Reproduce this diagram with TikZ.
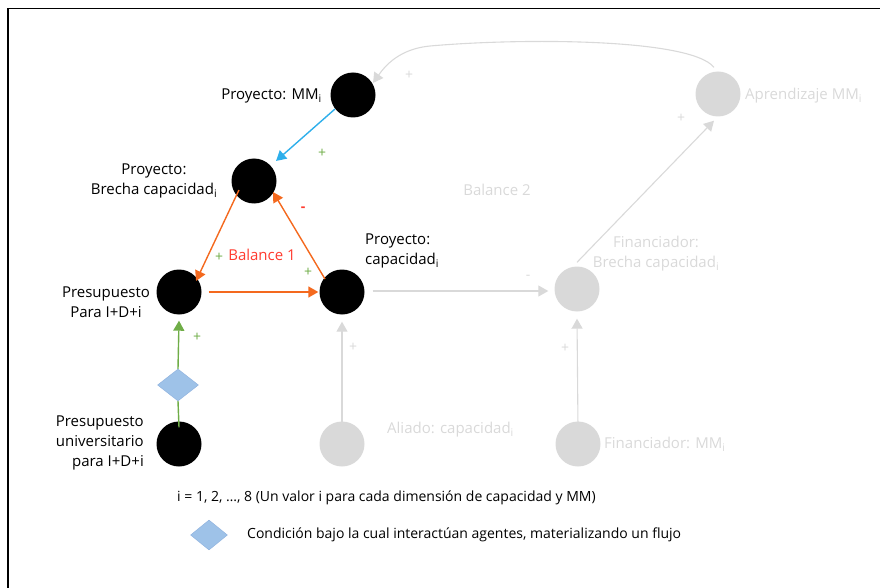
\documentclass[tikz,border=0pt]{standalone}
\usepackage{fontspec}
\setmainfont{Open Sans}
\usetikzlibrary{arrows.meta,shapes.geometric}
\definecolor{cOrange}{HTML}{F4691E}
\definecolor{cBlue}{HTML}{2EAFEB}
\definecolor{cGreen}{HTML}{6FAD47}
\definecolor{cRed}{HTML}{FF3B2F}
\definecolor{cGray}{HTML}{D9D9D9}
\definecolor{cDiaFill}{HTML}{9EC2E8}
\definecolor{cDiaLine}{HTML}{8DB0DD}
\tikzset{
  stock/.style={circle,fill=black,minimum size=45pt,inner sep=0pt},
  faded/.style={circle,fill=cGray,minimum size=45pt,inner sep=0pt},
  lbl/.style={font=\fontsize{15}{20}\selectfont,inner sep=0pt,align=center},
  glbl/.style={lbl,text=cGray},
  leg/.style={font=\fontsize{14}{18}\selectfont,inner sep=0pt},
  sign/.style={font=\fontsize{14}{16}\selectfont,inner sep=0pt},
  link/.style={line width=1.4pt,-{Triangle[length=10pt,width=11pt]}},
  flow/.style={cGray,line width=1.1pt,-{Triangle[length=10pt,width=11pt]}},
  cond/.style={diamond,draw=cDiaLine,fill=cDiaFill,inner sep=0pt,minimum width=41pt,minimum height=32pt,aspect=1.3},
}
\begin{document}
\begin{tikzpicture}[x=1pt,y=-1pt]
\useasboundingbox (0,0) rectangle (880,588);
\draw[line width=1.5pt] (8,588) coordinate (fl) -- (8,8.5) coordinate (fc) -- (880,8.5) coordinate (fr);

% faded (Balance 2) side
\node[faded] (aprend) at (718,94) {};
\node[faded] (finbre) at (577,289) {};
\node[faded] (aliado) at (342,444) {};
\node[faded] (finmm) at (578,444) {};

% project side
\node[stock] (mm) at (353,95) {};
\node[stock] (brecha) at (254,181) {};
\node[stock] (presu) at (179,292) {};
\node[stock] (capac) at (342,292) {};
\node[stock] (univ) at (179,444) {};
\node[cond] (cond1) at (178,385) {};

% labels
\node[lbl,anchor=east] (lmm) at (322,96) {Proyecto: MM\textsubscript{i}};
\node[lbl] (lbre) at (154,181) {Proyecto:\\Brecha capacidad\textsubscript{i}};
\node[lbl] (lpre) at (106,302) {Presupuesto\\Para I+D+i};
\node[lbl,align=left,anchor=west] (lcap) at (365,251) {Proyecto:\\capacidad\textsubscript{i}};
\node[lbl,align=right,anchor=east] (luni) at (144,443) {Presupuesto\\universitario\\para I+D+i};
\node[lbl,text=cRed] (bal1) at (262,255) {Balance 1};
\node[glbl] (bal2) at (497,190) {Balance 2};
\node[glbl] (lfb) at (656,254) {Financiador:\\Brecha capacidad\textsubscript{i}};
\node[glbl,anchor=west] (lap) at (745,96) {Aprendizaje MM\textsubscript{i}};
\node[glbl,anchor=west] (lal) at (387,430) {Aliado: capacidad\textsubscript{i}};
\node[glbl,anchor=west] (lfm) at (604,444) {Financiador: MM\textsubscript{i}};

% gray links
\draw[flow] (capac.east) ++(8,-1) coordinate (c1) -- ([xshift=-6pt]finbre.west |- c1);
\draw[flow] (finbre.north) ++(0,-4) coordinate (c2) -- ([shift={(-4pt,-4pt)}]aprend.south);
\draw[flow] (aprend.north) ++(-4,-4) coordinate (c3) .. controls (690,38) and (520,38) .. (430,46) .. controls (410,48) and (392,56) .. ([shift={(4pt,-4pt)}]mm.north east);
\draw[flow] ([yshift=-6pt]aliado.north) -- ([yshift=-7pt]capac.south);
\draw[flow] ([yshift=-6pt]finmm.north) -- ([yshift=-7pt]finbre.south);

% project links
\draw[link,cBlue] ([shift={(-2pt,2pt)}]mm.south west) -- ([shift={(6pt,4pt)}]brecha.north east);
\draw[link,cOrange] ([shift={(1pt,7pt)}]brecha.south west) -- ([shift={(1pt,-5pt)}]presu.north east);
\draw[link,cOrange] ([shift={(-1pt,-3pt)}]capac.north west) -- ([shift={(3pt,5pt)}]brecha.south east);
\draw[link,cOrange] ([xshift=7pt]presu.east) -- ([xshift=-1pt]capac.west);
\draw[cGreen,line width=1.4pt] ([yshift=-6pt]univ.north) -- (cond1.south);
\draw[link,cGreen] (cond1.north) -- ([yshift=-6pt]presu.south);

% polarity signs
\node[sign,text=cGreen] (s1) at (322,153) {+};
\node[sign,text=cGreen] (s2) at (219,257) {+};
\node[sign,text=cRed] (s3) at (303,209) {\textbf{-}};
\node[sign,text=cGreen] (s4) at (308,272) {+};
\node[sign,text=cGreen] (s5) at (197,337) {+};
\node[sign,text=cGray] (s6) at (528,277) {-};
\node[sign,text=cGray] (s7) at (681,118) {+};
\node[sign,text=cGray] (s8) at (409,75) {+};
\node[sign,text=cGray] (s9) at (353,347) {+};
\node[sign,text=cGray] (s10) at (565,348) {+};

% legend
\node[leg,anchor=west] (leg1) at (177,498) {i = 1, 2, …, 8 (Un valor i para cada dimensión de capacidad y MM)};
\node[cond,minimum width=37pt,minimum height=30pt] (leg2d) at (209,535) {};
\node[leg,anchor=west] (leg2) at (247,535) {Condición bajo la cual interactúan agentes, materializando un flujo};
\end{tikzpicture}
\end{document}
